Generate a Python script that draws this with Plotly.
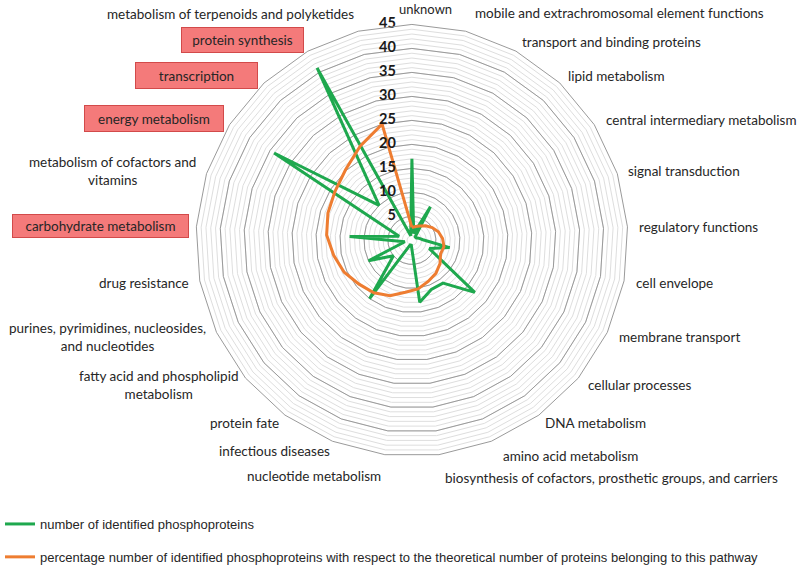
import plotly.graph_objects as go

categories = [
    "unknown",
    "mobile and extrachromosomal element functions",
    "transport and binding proteins",
    "lipid metabolism",
    "central intermediary metabolism",
    "signal transduction",
    "regulatory functions",
    "cell envelope",
    "membrane transport",
    "cellular processes",
    "DNA metabolism",
    "amino acid metabolism",
    "biosynthesis of cofactors, prosthetic groups, and carriers",
    "nucleotide metabolism",
    "infectious diseases",
    "protein fate",
    "fatty acid and phospholipid metabolism",
    "purines, pyrimidines, nucleosides, and nucleotides",
    "drug resistance",
    "carbohydrate metabolism",
    "metabolism of cofactors and vitamins",
    "energy metabolism",
    "transcription",
    "protein synthesis",
    "metabolism of terpenoids and polyketides",
]

# displayed label text (wrapped as in the original)
label_text = {
    "fatty acid and phospholipid metabolism": "fatty acid and phospholipid<br>metabolism",
    "purines, pyrimidines, nucleosides, and nucleotides": "purines, pyrimidines, nucleosides,<br>and nucleotides",
    "metabolism of cofactors and vitamins": "metabolism of cofactors and<br>vitamins",
}

highlighted = ["protein synthesis", "transcription", "energy metabolism", "carbohydrate metabolism"]

radial_ticks = [0, 5, 10, 15, 20, 25, 30, 35, 40, 45]

phosphoproteins = [17, 1.5, 8, 1, 1, 1.5, 2.3, 8, 4, 17, 11, 11, 13, 1, 1, 15, 5, 10,
                   1.5, 13, 2.8, 34, 10, 41, 1]
percentage = [2.7, 3.0, 3.4, 4.2, 5.0, 5.8, 6.4, 6.8, 6.6, 7.6, 8.5, 9.2, 10.2, 10.9,
              12.4, 13.5, 14.3, 15.6, 16.6, 17.8, 18.4, 19.0, 20.2, 22.4, 25.0]

series_names = [
    "number of identified phosphoproteins",
    "percentage number of identified phosphoproteins with respect to the theoretical number of proteins belonging to this pathway",
]

# label placement (pixel centres)
label_pos = {
    "unknown": (421, 7),
    "mobile and extrachromosomal element functions": (617, 13),
    "transport and binding proteins": (609, 43),
    "lipid metabolism": (614.5, 78),
    "central intermediary metabolism": (699.5, 123),
    "signal transduction": (683, 175),
    "regulatory functions": (697.5, 232),
    "cell envelope": (673.3, 290),
    "membrane transport": (678.3, 345),
    "cellular processes": (637.3, 394),
    "DNA metabolism": (593.3, 433),
    "amino acid metabolism": (567.7, 467),
    "biosynthesis of cofactors, prosthetic groups, and carriers": (609.5, 489),
    "nucleotide metabolism": (308.3, 487),
    "infectious diseases": (267.5, 461),
    "protein fate": (237, 433),
    "fatty acid and phospholipid metabolism": (150, 394),
    "purines, pyrimidines, nucleosides, and nucleotides": (99, 345),
    "drug resistance": (135.7, 290),
    "carbohydrate metabolism": (91.5, 231),
    "metabolism of cofactors and vitamins": (104, 174.5),
    "energy metabolism": (146, 121),
    "transcription": (189, 77),
    "protein synthesis": (235, 41),
    "metabolism of terpenoids and polyketides": (223, 14),
}
box_size = {
    "protein synthesis": (117, 20),
    "transcription": (117, 21),
    "energy metabolism": (134, 21),
    "carbohydrate metabolism": (171, 18),
}

W, H = 800, 572
GREEN = "#1ea84e"
ORANGE = "#ee7d31"
LABEL_FONT = dict(family="Lato, Liberation Sans, sans-serif", size=13.5, color="#262626")

fig = go.Figure()

# invisible trace so the minor-grid polar subplot is drawn
fig.add_trace(go.Scatterpolar(r=[0], theta=[categories[0]], mode="markers",
                              marker=dict(size=0.1, opacity=0), showlegend=False,
                              hoverinfo="skip", subplot="polar"))

closed_theta = categories + [categories[0]]
fig.add_trace(go.Scatterpolar(
    r=phosphoproteins + [phosphoproteins[0]], theta=closed_theta, mode="lines",
    line=dict(color=GREEN, width=3), name=series_names[0], subplot="polar2",
    legendgroup="a"))
fig.add_trace(go.Scatterpolar(
    r=percentage + [percentage[0]], theta=closed_theta, mode="lines",
    line=dict(color=ORANGE, width=3), name=series_names[1], subplot="polar2",
    legendgroup="b"))

# radial tick labels placed along the vertical axis
fig.add_trace(go.Scatterpolar(
    r=radial_ticks, theta=[categories[0]] * len(radial_ticks), mode="markers+text",
    text=[str(v) for v in radial_ticks], textposition="middle left",
    marker=dict(size=24, opacity=0), cliponaxis=False,
    textfont=dict(family="Lato, sans-serif", size=14.5, color="#1a1a1a", weight="bold"),
    showlegend=False, hoverinfo="skip", subplot="polar2"))

cx, cy, R = 407, 246, 221
dom_x = [(cx - R) / W, (cx + R) / W]
dom_y = [(H - cy - R) / H, (H - cy + R) / H]

fig.update_layout(
    width=W, height=H,
    margin=dict(l=0, r=0, t=0, b=0),
    paper_bgcolor="white",
    polar=dict(
        domain=dict(x=dom_x, y=dom_y),
        gridshape="linear",
        bgcolor="white",
        radialaxis=dict(range=[0, 45], dtick=1, showticklabels=False, ticks="",
                        gridcolor="#dedede", gridwidth=1, showline=False, angle=90),
        angularaxis=dict(categoryarray=categories, categoryorder="array",
                         direction="clockwise", rotation=90, showgrid=False,
                         showticklabels=False, ticks="", showline=False),
    ),
    polar2=dict(
        domain=dict(x=dom_x, y=dom_y),
        gridshape="linear",
        bgcolor="rgba(0,0,0,0)",
        radialaxis=dict(range=[0, 45], dtick=5, showticklabels=False, ticks="",
                        showline=False, gridcolor="#9a9a9a", gridwidth=1, angle=90),
        angularaxis=dict(categoryarray=categories, categoryorder="array",
                         direction="clockwise", rotation=90, showgrid=False,
                         showticklabels=False, ticks="", showline=True,
                         linecolor="#9a9a9a", linewidth=1),
    ),
    legend=dict(x=-0.013, y=0.089, xanchor="left", yanchor="top", itemwidth=30,
                font=dict(family="Liberation Sans, Arial, sans-serif", size=13, color="#262626"),
                tracegroupgap=13, bgcolor="rgba(0,0,0,0)"),
    showlegend=True,
)

for name in categories:
    px, py = label_pos[name]
    kw = dict(x=px / W, y=1 - py / H, xref="paper", yref="paper",
              text=label_text.get(name, name), showarrow=False, font=LABEL_FONT,
              xanchor="center", yanchor="middle", align="center")
    if name == categories[0]:
        kw.update(y=1, yanchor="top", borderpad=0, font=dict(LABEL_FONT, size=13))
    if name in highlighted:
        w, h = box_size[name]
        kw.update(bgcolor="#f47a7a", bordercolor="#d24a4a", borderwidth=1,
                  width=w, height=h, borderpad=2)
    fig.add_annotation(**kw)

fig.write_html("out.html", config={"displayModeBar": False},
               post_script="document.body.style.margin='0px';")
